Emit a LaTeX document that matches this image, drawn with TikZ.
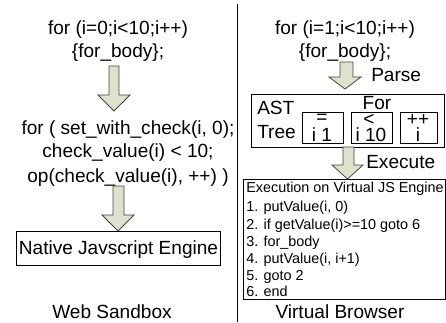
\documentclass[tikz,border=0pt]{standalone}
\usepackage{fontspec}
\setmainfont{Liberation Sans}
\definecolor{arrowfill}{RGB}{221,225,205}
\definecolor{arrowline}{RGB}{70,70,60}
\begin{document}
\begin{tikzpicture}[x=0.75pt,y=-0.75pt,
  big/.style={anchor=base,inner sep=0pt,font=\fontsize{14.3pt}{16pt}\selectfont},
  small/.style={anchor=base west,inner sep=0pt,font=\fontsize{10.8pt}{12pt}\selectfont},
  frame/.style={draw=black,line width=0.65pt,fill=white},
  blockarrow/.style={draw=arrowline,line width=0.6pt,fill=arrowfill}]
\useasboundingbox (0,0) rectangle (446,322);
\fill[white] (0,0) rectangle (446,322);
\coordinate (divtop) at (237,4);
\coordinate (divbot) at (237,322);
\draw[line width=0.7pt] (divtop) -- (divbot);
% left column
\node[big] (l1) at (118,34) {for (i=0;i<10;i++)};
\node[big] (l2) at (118,57) {\{for\_body\};};
\node[big] (l3) at (128,134) {for ( set\_with\_check(i, 0);};
\node[big] (l4) at (128,157) {check\_value(i) < 10;};
\node[big] (l5) at (128,182) {op(check\_value(i), ++) )};
\node[frame,minimum width=153pt,minimum height=25.5pt,inner sep=0pt] (native) at (118,248) {};
\node[big] (nt) at (118.5,254) {Native Javscript Engine};
\node[big] (ws) at (112,318) {Web Sandbox};
\draw[blockarrow] (109,66) -- (119,66) -- (119,95) -- (130,95) -- (114,111) -- (98,95) -- (109,95) -- cycle;
\draw[blockarrow] (113,186) -- (124,186) -- (124,215) -- (134,215) -- (118,231) -- (102,215) -- (113,215) -- cycle;
% right column
\node[big] (r1) at (345,34) {for (i=1;i<10;i++)};
\node[big] (r2) at (345,57) {\{for\_body\};};
\node[big,anchor=base west] (parse) at (371,81) {Parse};
\node[frame,minimum width=144.75pt,minimum height=39.75pt,inner sep=0pt] (ast) at (347.5,120.5) {};
\node[big,anchor=base west] (a1) at (257,114) {AST};
\node[big,anchor=base west] (a2) at (257,138) {Tree};
\node[frame,minimum width=30.75pt,minimum height=23.25pt,inner sep=0pt] (b1) at (322.5,127.5) {};
\node[frame,minimum width=30.75pt,minimum height=23.25pt,inner sep=0pt] (b2) at (371.5,127.5) {};
\node[frame,minimum width=27.75pt,minimum height=23.25pt,inner sep=0pt] (b3) at (418.5,127.5) {};
\node[big] (for) at (377,109) {For};
\node[big] (b1a) at (322,123) {=};
\node[big] (b1b) at (322,141) {i 1};
\node[big] (b2a) at (369,125) {<};
\node[big] (b2b) at (371,141) {i 10};
\node[big] (b3a) at (418,125) {++};
\node[big] (b3b) at (418,141) {i};
\node[big,anchor=base west] (exec) at (366,168) {Execute};
\draw[blockarrow] (340,62) -- (353,62) -- (353,77) -- (361,77) -- (345,89) -- (329,77) -- (340,77) -- cycle;
\node[frame,minimum width=151.5pt,minimum height=90pt,inner sep=0pt] (eng) at (344,239) {};
\draw[blockarrow] (343,147) -- (354,147) -- (354,165) -- (363,165) -- (347.5,179) -- (332,165) -- (343,165) -- cycle;
\node[small] (e0) at (246,192) {Execution on Virtual JS Engine};
\node[small] (e1) at (246,211) {1. putValue(i, 0)};
\node[small] (e2) at (246,229) {2. if getValue(i)>=10 goto 6};
\node[small] (e3) at (246,246) {3. for\_body};
\node[small] (e4) at (246,263) {4. putValue(i, i+1)};
\node[small] (e5) at (246,280) {5. goto 2};
\node[small] (e6) at (246,296) {6. end};
\node[big] (vb) at (340,318.5) {Virtual Browser};
\end{tikzpicture}
\end{document}
